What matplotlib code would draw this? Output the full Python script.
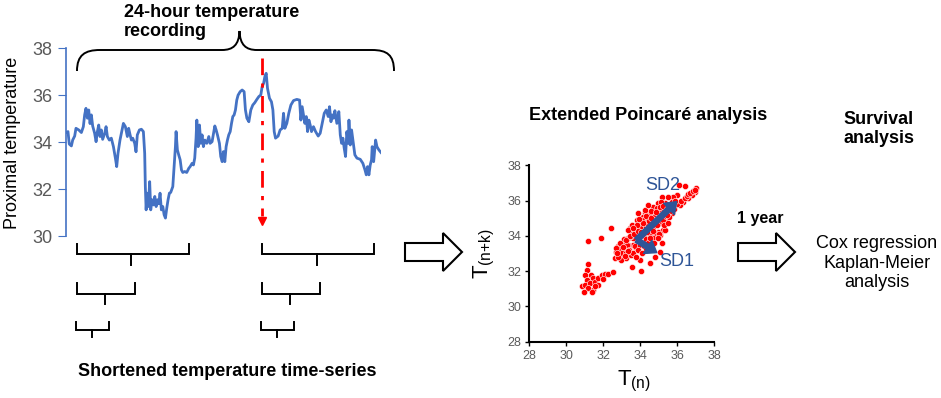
import matplotlib.pyplot as plt
from matplotlib.path import Path
from matplotlib.patches import PathPatch, FancyArrow, FancyArrowPatch

plt.rcParams['font.family'] = ['Liberation Sans', 'DejaVu Sans']
plt.rcParams['mathtext.fontset'] = 'custom'
plt.rcParams['mathtext.rm'] = 'Liberation Sans'

# 24-hour proximal temperature recording (hours, deg C)
hours = [0, 0.15, 0.25, 0.41, 0.51, 0.66, 0.76, 0.97, 1.17, 1.32, 1.42, 1.52, 1.63, 1.73,
         1.83, 1.93, 2.03, 2.18, 2.29, 2.39, 2.49, 2.59, 2.69, 2.79, 2.95, 3.05, 3.15, 3.30,
         3.45, 3.61, 3.76, 3.86, 3.96, 4.11, 4.27, 4.37, 4.52, 4.67, 4.77, 4.88, 4.98, 5.08,
         5.23, 5.33, 5.43, 5.59, 5.74, 5.89, 5.99, 6.04, 6.10, 6.17, 6.27, 6.37, 6.45, 6.55,
         6.65, 6.76, 6.86, 6.96, 7.06, 7.16, 7.26, 7.37, 7.47, 7.57, 7.67, 7.77, 7.87, 7.97,
         8.13, 8.23, 8.33, 8.38, 8.48, 8.58, 8.69, 8.79, 8.89, 9.04, 9.19, 9.35, 9.45, 9.60,
         9.70, 9.80, 9.90, 9.96, 10.06, 10.16, 10.26, 10.36, 10.46, 10.57, 10.72, 10.87, 10.97,
         11.12, 11.23, 11.33, 11.43, 11.53, 11.68, 11.78, 11.89, 11.99, 12.09, 12.19, 12.29,
         12.39, 12.50, 12.60, 12.70, 12.80, 12.90, 13.00, 13.10, 13.26, 13.41, 13.56, 13.66,
         13.77, 13.92, 14.07, 14.22, 14.37, 14.53, 14.68, 14.83, 14.93, 15.04, 15.14, 15.24,
         15.34, 15.49, 15.64, 15.75, 15.85, 15.95, 16.15, 16.30, 16.46, 16.56, 16.66, 16.81,
         16.96, 17.12, 17.32, 17.57, 17.78, 17.88, 17.98, 18.08, 18.18, 18.29, 18.39, 18.49,
         18.59, 18.69, 18.84, 19.00, 19.20, 19.35, 19.50, 19.66, 19.81, 19.96, 20.06, 20.17,
         20.27, 20.37, 20.47, 20.62, 20.77, 20.88, 20.98, 21.08, 21.18, 21.28, 21.38, 21.49,
         21.54, 21.64, 21.74, 21.84, 21.99, 22.15, 22.40, 22.60, 22.76, 22.86, 22.96, 23.06,
         23.16, 23.26, 23.31, 23.42, 23.57, 23.67, 23.82, 23.98]
temp = [34.42, 34.46, 33.93, 33.85, 34.10, 34.27, 34.60, 34.53, 34.42, 34.67, 35.17, 35.45,
        35.03, 35.38, 34.80, 35.17, 34.70, 34.39, 34.03, 34.46, 34.74, 34.25, 34.53, 34.13,
        34.39, 34.67, 34.25, 34.10, 34.18, 33.82, 33.33, 32.97, 33.54, 34.10, 34.53, 34.81,
        34.67, 34.25, 34.60, 34.32, 34.10, 34.18, 33.96, 33.60, 34.32, 34.53, 34.56, 34.46,
        33.54, 32.12, 31.13, 31.84, 31.27, 32.33, 31.13, 31.56, 31.34, 31.70, 31.27, 31.56,
        31.39, 31.84, 31.13, 31.27, 30.92, 30.78, 31.20, 31.56, 31.84, 31.87, 32.12, 32.97,
        33.82, 34.46, 33.68, 33.47, 33.26, 32.83, 32.72, 32.76, 32.72, 32.90, 32.97, 33.11,
        33.04, 33.33, 34.18, 34.95, 33.82, 34.74, 33.96, 34.32, 33.82, 34.10, 33.96, 34.25,
        33.96, 34.03, 34.39, 34.70, 34.53, 34.32, 33.96, 33.40, 33.18, 33.61, 33.18, 33.82,
        34.10, 34.32, 34.46, 34.81, 35.10, 35.17, 35.38, 35.80, 36.01, 36.16, 36.23, 36.16,
        35.38, 35.03, 34.88, 35.38, 35.59, 35.69, 35.83, 35.95, 36.02, 36.37, 36.51, 36.80,
        36.94, 36.30, 35.88, 35.73, 35.38, 34.46, 34.18, 34.27, 34.53, 34.60, 35.24, 34.60,
        34.81, 35.24, 35.59, 35.78, 35.83, 35.80, 34.95, 35.52, 35.17, 34.81, 35.10, 34.46,
        34.95, 34.74, 34.46, 34.67, 34.46, 34.27, 34.39, 34.81, 35.24, 35.38, 35.10, 35.52,
        34.88, 35.17, 35.03, 35.35, 34.81, 35.31, 34.32, 33.96, 34.18, 33.75, 33.40, 34.46,
        33.96, 34.95, 33.89, 34.53, 34.10, 33.47, 33.33, 33.28, 33.11, 32.83, 32.62, 32.97,
        32.62, 33.04, 33.26, 33.82, 33.18, 34.10, 33.82, 33.68, 33.57]

# Poincare plot points (T(n), T(n+k))
poincare_pts = [
    (31.15, 33.71), (31.86, 33.90), (32.43, 34.47), (31.19, 32.42), (31.10, 32.07),
    (31.00, 31.79), (31.33, 31.79), (31.10, 31.50), (31.46, 31.60), (30.83, 31.13),
    (31.00, 31.22), (31.27, 31.32), (31.55, 31.41), (31.73, 31.60), (31.91, 31.79),
    (32.09, 31.83), (32.27, 31.83), (31.73, 31.22), (31.46, 30.94), (31.19, 31.03),
    (32.00, 31.56), (32.50, 31.95), (31.55, 31.13), (30.97, 30.80), (31.40, 30.80),
    (32.62, 32.73), (32.71, 33.11), (32.80, 33.40), (32.98, 32.92), (33.16, 33.20),
    (33.07, 33.58), (33.34, 33.86), (33.52, 34.15), (33.43, 34.43), (33.70, 34.34),
    (33.25, 32.73), (33.52, 32.92), (33.79, 33.30), (33.61, 33.49), (33.88, 33.68),
    (32.89, 33.30), (33.34, 33.49), (33.97, 32.64), (33.55, 32.22), (32.98, 32.64),
    (34.02, 31.99), (34.52, 32.48), (35.06, 33.10), (34.79, 32.82),
    (36.11, 36.88), (36.41, 36.82), (37.00, 36.72), (36.95, 36.50), (36.77, 36.32),
    (36.59, 36.13), (36.32, 35.94), (36.14, 35.75), (35.96, 36.32), (35.78, 36.22),
    (35.51, 36.22), (35.15, 36.22), (34.97, 35.85), (35.33, 35.85), (35.60, 35.66),
    (35.06, 35.47), (34.69, 35.66), (34.51, 35.28), (34.24, 35.28), (34.78, 35.10),
    (35.42, 35.38), (35.69, 35.28), (34.33, 34.90), (34.06, 35.00), (35.06, 34.73),
    (35.33, 34.90), (34.69, 34.52), (35.24, 34.33), (34.97, 34.24), (34.15, 34.43),
    (34.42, 34.62), (33.89, 35.31), (34.25, 35.46), (34.40, 35.75), (34.16, 35.09),
    (33.80, 34.90), (33.53, 34.62), (33.98, 34.62), (33.71, 34.33), (33.35, 34.33),
    (35.06, 34.05), (35.15, 33.57), (35.33, 34.33), (34.79, 34.14),
    (33.90, 33.90), (34.20, 34.00), (34.40, 34.40), (34.60, 34.70), (34.80, 34.90),
    (35.00, 35.20), (35.20, 35.50), (35.50, 35.70), (35.70, 35.90), (34.00, 34.50),
    (33.60, 33.90), (33.30, 33.50), (33.00, 33.00), (32.80, 32.80), (33.20, 33.00),
    (33.40, 33.20), (33.70, 33.40), (34.00, 33.50), (34.30, 33.80), (34.50, 34.10),
    (34.70, 34.30), (34.90, 34.60), (35.20, 34.90), (35.40, 35.10), (35.60, 35.40),
    (35.80, 35.50), (36.00, 35.80), (33.50, 34.00), (33.80, 34.60), (34.10, 34.90),
    (34.30, 35.10), (34.60, 35.40), (34.90, 35.60), (35.10, 35.90), (33.10, 33.80),
    (32.90, 33.60), (32.70, 33.30), (33.60, 33.00), (33.90, 33.20), (34.20, 33.40),
    (34.40, 33.60), (34.70, 33.90), (35.00, 34.10),
    (32.75, 33.00), (33.05, 33.35), (33.25, 33.75), (33.45, 34.00), (33.65, 34.10),
    (33.85, 34.25), (34.05, 34.20), (34.25, 34.30), (34.45, 34.85), (34.60, 35.00),
    (34.85, 35.35), (35.05, 35.65), (35.25, 35.70), (35.45, 35.55), (35.55, 35.05),
    (35.75, 35.70), (35.90, 35.95), (34.55, 33.85), (34.75, 33.60), (34.95, 33.85),
    (34.30, 33.20), (34.10, 33.05), (33.75, 32.80), (33.35, 33.15), (33.15, 32.85),
    (35.30, 34.60), (35.50, 34.75), (35.45, 35.20), (34.35, 34.20), (34.15, 34.70),
    (33.95, 34.95), (33.60, 34.45),
    (36.20, 36.00), (36.40, 36.15), (36.50, 36.25), (36.60, 36.35), (36.70, 36.45),
    (36.85, 36.55), (36.95, 36.62)]
tn = [p[0] for p in poincare_pts]
tnk = [p[1] for p in poincare_pts]

sd_center = (33.80, 33.77)
sd2_end = (35.97, 35.94)
sd1_end = (34.89, 33.05)

blue = '#4472C4'
sd_blue = '#2E5597'
gray = '#595959'

fig = plt.figure(figsize=(9.41, 3.98), dpi=100)

# temperature recording
ax1 = fig.add_axes([66 / 941, 0.406, 315 / 941, 0.4724])
ax1.plot(hours, temp, color=blue, lw=2)
ax1.set_xlim(0, hours[-1])
ax1.set_ylim(30, 38)
ax1.set_yticks([30, 32, 34, 36, 38])
ax1.set_xticks([])
for s in ['top', 'right', 'bottom']:
    ax1.spines[s].set_visible(False)
ax1.spines['left'].set_color(blue)
ax1.spines['left'].set_linewidth(1.2)
ax1.tick_params(axis='y', length=6, color=blue, labelcolor=gray, labelsize=13, pad=4)
ax1.set_ylabel('Proximal temperature', fontsize=13, labelpad=8)
ax1.patch.set_alpha(0)

# Poincare plot
ax2 = fig.add_axes([529.3 / 941, 0.1415, 185 / 941, 0.4432])
ax2.scatter(tn, tnk, s=20, color='#FF0000', edgecolors='white', linewidths=0.4, zorder=2)
ax2.set_xlim(28, 38)
ax2.set_ylim(28, 38)
ax2.set_xticks([28, 30, 32, 34, 36, 38])
ax2.set_yticks([28, 30, 32, 34, 36, 38])
for s in ['top', 'right']:
    ax2.spines[s].set_visible(False)
for s in ['left', 'bottom']:
    ax2.spines[s].set_linewidth(1.5)
ax2.tick_params(length=3, width=1, labelcolor=gray, labelsize=9, pad=3)
ax2.patch.set_alpha(0)
for end in [sd2_end, sd1_end]:
    ax2.add_patch(FancyArrowPatch(sd_center, end, arrowstyle='simple,head_length=1.1,head_width=1.6,tail_width=0.55',
                                  mutation_scale=7, color=sd_blue, zorder=3, shrinkA=0, shrinkB=0))
ax2.text(35.2, 36.88, 'SD2', color=sd_blue, fontsize=13, ha='center', va='center', zorder=4)
ax2.text(35.97, 32.53, 'SD1', color=sd_blue, fontsize=13, ha='center', va='center', zorder=4)

# annotation layer in pixel coordinates
ax0 = fig.add_axes([0, 0, 1, 1])
ax0.set_xlim(0, 941)
ax0.set_ylim(398, 0)
ax0.axis('off')
ax0.patch.set_alpha(0)

# curly brace over the recording
verts = [(77, 71), (77, 55), (85, 50), (100, 50), (222, 50),
         (233, 50), (239, 45), (239.5, 31),
         (240, 45), (246, 50), (257, 50), (372, 50),
         (387, 50), (394, 55), (394, 71)]
codes = [Path.MOVETO, Path.CURVE4, Path.CURVE4, Path.CURVE4, Path.LINETO,
         Path.CURVE4, Path.CURVE4, Path.CURVE4,
         Path.CURVE4, Path.CURVE4, Path.CURVE4, Path.LINETO,
         Path.CURVE4, Path.CURVE4, Path.CURVE4]
ax0.add_patch(PathPatch(Path(verts, codes), fill=False, lw=1.4, ec='black'))
ax0.text(124, 22, '24-hour temperature\nrecording', fontsize=13, fontweight='bold',
         ha='left', va='center', linespacing=1.1)

# red split marker
ax0.plot([262, 262], [58, 216], color='#FF0000', lw=2, linestyle=(0, (6, 3, 1.5, 3)))
ax0.plot([262], [221], marker='v', color='#FF0000', markersize=6)


def bracket(x0, x1, ytop, ybar, xt, ytick):
    ax0.plot([x0, x0, x1, x1], [ytop, ybar, ybar, ytop], color='black', lw=1.4, solid_joinstyle='miter')
    ax0.plot([xt, xt], [ybar, ytick], color='black', lw=1.4)


bracket(77, 189, 244, 254, 131, 265)
bracket(77, 135, 283, 294, 105, 304)
bracket(76, 109, 322, 330, 92, 337)
bracket(262, 374, 244, 254, 317, 265)
bracket(262, 320, 283, 294, 290, 304)
bracket(261, 294, 322, 330, 277, 337)
ax0.text(227, 371, 'Shortened temperature time-series', fontsize=13, fontweight='bold',
         ha='center', va='center')

# hollow block arrows
for x in [405, 738]:
    ax0.add_patch(FancyArrow(x, 252, 57, 0, width=18, head_width=38, head_length=19,
                             length_includes_head=True, fc='white', ec='black', lw=1.5))

ax0.text(648, 115, 'Extended Poincaré analysis', fontsize=13, fontweight='bold', ha='center', va='center')
ax0.text(879, 129, 'Survival\nanalysis', fontsize=13, fontweight='bold', ha='center', va='center',
         linespacing=1.2)
ax0.text(760, 218, '1 year', fontsize=11.5, fontweight='bold', ha='center', va='center')
ax0.text(877, 263, 'Cox regression\nKaplan-Meier\nanalysis', fontsize=13, ha='center', va='center',
         linespacing=1.2)

# Poincare axis labels
ax0.text(634, 381, r'$\mathrm{T_{(n)}}$', fontsize=16, ha='center', va='center')
ax0.text(484, 254, r'$\mathrm{T_{(n{+}k)}}$', fontsize=16, ha='center', va='center', rotation=90)

fig.savefig('out.png', dpi=100)
